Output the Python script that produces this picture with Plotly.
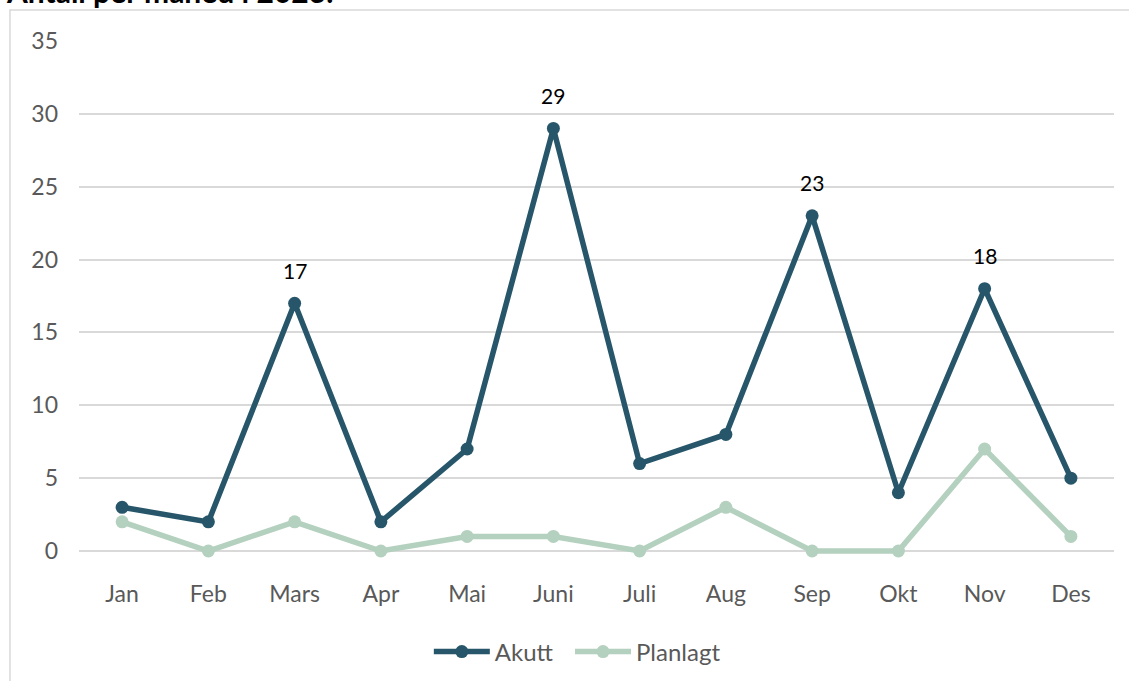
import plotly.graph_objects as go

months = ["Jan", "Feb", "Mars", "Apr", "Mai", "Juni", "Juli", "Aug", "Sep", "Okt", "Nov", "Des"]
akutt = [3, 2, 17, 2, 7, 29, 6, 8, 23, 4, 18, 5]
planlagt = [2, 0, 2, 0, 1, 1, 0, 3, 0, 0, 7, 1]
akutt_labels = ["", "", "17", "", "", "29", "", "", "23", "", "18", ""]
y_ticks = [0, 5, 10, 15, 20, 25, 30, 35]
title_text = "Antall per måned i 2023."

FONT = "Lato"
GRAY = "#595959"
C_AKUTT = "#27566A"
C_PLAN = "#B4D0BE"

fig = go.Figure()
fig.add_trace(go.Scatter(x=months, y=akutt, name="Akutt", mode="lines+markers", legend="legend",
                         cliponaxis=False,
                         line=dict(color=C_AKUTT, width=5.5), marker=dict(size=13, color=C_AKUTT)))
fig.add_trace(go.Scatter(x=months, y=planlagt, name="Planlagt", mode="lines+markers", legend="legend2",
                         cliponaxis=False,
                         line=dict(color=C_PLAN, width=5.5), marker=dict(size=13, color=C_PLAN)))

annotations = []
for m, v, lab in zip(months, akutt, akutt_labels):
    if lab:
        annotations.append(dict(x=m, y=v, text=lab, showarrow=False, yshift=33,
                                font=dict(family=FONT, size=21, color="#000000")))
annotations.append(dict(xref="paper", yref="paper", x=-0.0725, y=1.0585, xanchor="left", yanchor="bottom",
                        text="<b>" + title_text + "</b>", showarrow=False,
                        font=dict(family=FONT, size=30, color="#000000")))

legend_common = dict(orientation="h", yanchor="middle", y=-0.191, xanchor="left",
                     font=dict(family=FONT, size=24, color=GRAY), itemwidth=56,
                     bgcolor="rgba(0,0,0,0)")

fig.update_layout(
    width=1129, height=681,
    margin=dict(l=79, r=15, t=41, b=127, autoexpand=False),
    paper_bgcolor="white", plot_bgcolor="white",
    font=dict(family=FONT, size=23, color=GRAY),
    showlegend=True,
    legend=dict(x=0.338, **legend_common),
    legend2=dict(x=0.4744, **legend_common),
    xaxis=dict(type="category", showgrid=False, zeroline=False, showline=False,
               ticks="", ticklabelstandoff=24, tickfont=dict(family=FONT, size=23, color=GRAY),
               range=[-0.5, 11.5], automargin=False),
    yaxis=dict(range=[-0.206, 35], tickvals=y_ticks, showgrid=True, gridcolor="#D9D9D9", gridwidth=1.5,
               zeroline=False, showline=False, ticks="", ticklabelstandoff=20,
               tickfont=dict(family=FONT, size=23, color=GRAY), automargin=False),
    annotations=annotations,
    shapes=[dict(type="rect", xref="paper", yref="paper", x0=-0.0667, x1=1.05, y0=-0.35, y1=1.0604,
                 line=dict(color="#D9D9D9", width=1.5), layer="below")],
)

fig.write_html("out.html", post_script="document.body.style.margin='0';",
               config={"displayModeBar": False})
